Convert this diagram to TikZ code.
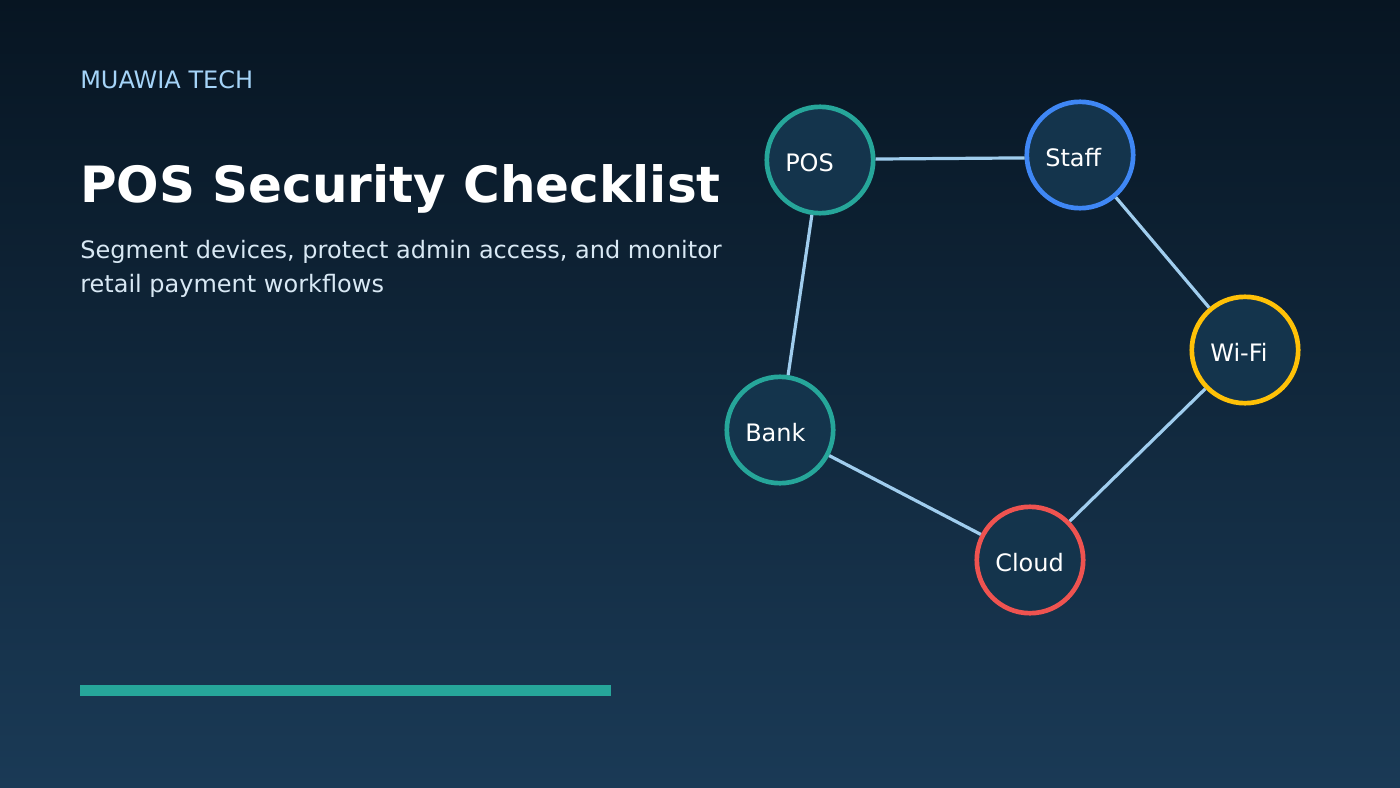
\documentclass[tikz,border=0pt]{standalone}
\usepackage{fontspec}
\setmainfont{DejaVu Sans}
\definecolor{bgtop}{HTML}{071522}
\definecolor{bgbot}{HTML}{1A3A56}
\definecolor{fillc}{HTML}{14344C}
\definecolor{linkc}{HTML}{A0CDEE}
\definecolor{teal}{HTML}{26A69A}
\definecolor{blue1}{HTML}{3F87F5}
\definecolor{amber}{HTML}{FFC107}
\definecolor{red1}{HTML}{EF5350}
\definecolor{eyebrow}{HTML}{A5D4F8}
\definecolor{subc}{HTML}{D8E8F4}
\tikzset{
  x=0.75pt,y=-0.75pt,
  hub/.style={circle,draw=#1,fill=fillc,line width=3.5pt,minimum size=79.8pt,inner sep=0pt},
  hubtext/.style={anchor=base west,inner sep=0pt,text=white,font=\fontsize{18pt}{18pt}\selectfont},
  link/.style={draw=linkc,line width=2.4pt},
  txt/.style={anchor=base west,inner sep=0pt}
}
\begin{document}
\begin{tikzpicture}
\useasboundingbox (0,0) rectangle (1400,788);
\shade[top color=bgtop,bottom color=bgbot] (0,0) rectangle (1400,788);
\node[txt,text=eyebrow,font=\fontsize{18pt}{18pt}\selectfont] (brand) at (80,88.2) {MUAWIA TECH};
\node[txt,text=white,font=\fontsize{37.5pt}{37.5pt}\selectfont\bfseries] (title) at (80,202.8) {POS Security Checklist};
\node[txt,text=subc,font=\fontsize{18pt}{18pt}\selectfont] (sub1) at (80,258) {Segment devices, protect admin access, and monitor};
\node[txt,text=subc,font=\fontsize{18pt}{18pt}\selectfont] (sub2) at (80,292) {retail payment workflows};
\fill[teal] (80,685) rectangle (611,696);
\node[hub=teal] (pos) at (820,160) {};
\node[hub=blue1] (staff) at (1080,155) {};
\node[hub=amber] (wifi) at (1245,350) {};
\node[hub=red1] (cloud) at (1030,560) {};
\node[hub=teal] (bank) at (780,430) {};
\draw[link] (pos.1) -- (staff.183);
\draw[link] (staff) -- (wifi);
\draw[link] (wifi) -- (cloud);
\draw[link] (cloud) -- (bank);
\draw[link] (bank) -- (pos);
\node[hubtext] (tpos) at (785,171.7) {POS};
\node[hubtext] (tstaff) at (1045,166.7) {Staff};
\node[hubtext] (twifi) at (1210,361) {Wi-Fi};
\node[hubtext] (tcloud) at (995,571) {Cloud};
\node[hubtext] (tbank) at (745,441) {Bank};
\end{tikzpicture}
\end{document}
